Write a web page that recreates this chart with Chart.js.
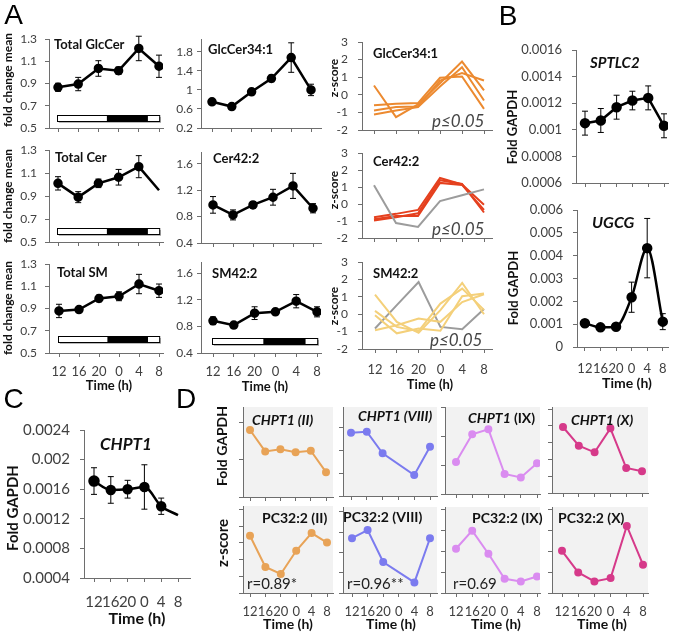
<!DOCTYPE html>
<html><head><meta charset="utf-8">
<script src="https://cdn.jsdelivr.net/npm/chart.js@4.4.1/dist/chart.umd.min.js"></script>
<style>
html,body{margin:0;padding:0;background:#fff}
body{position:relative;width:677px;height:636px;overflow:hidden;font-family:Lato,'Open Sans',sans-serif}
canvas{position:absolute;left:0;top:0}
.t{position:absolute;white-space:nowrap;line-height:1;color:#111}
</style></head><body>
<script>
// ---------- data ----------
const timeLabels = ['12','16','20','0','4','8'];
const lightDarkEdges = [-0.06, 2.42, 4.45, 5.0]; // light start, dark start, dark end, light end (time index)

const totalGlcCer = [0.866, 0.895, 1.035, 1.015, 1.215, 1.055];
const totalGlcCerErr = [0.036, 0.06, 0.07, 0.033, 0.11, 0.1];
const glcCer341 = [0.75, 0.65, 0.96, 1.24, 1.68, 1.0];
const glcCer341Err = [0.05, 0.05, 0.05, 0.07, 0.31, 0.12];
const glcCerZ = [
  [0.53, -1.27, -0.55, 0.66, 1.89, 0.25],
  [-0.6, -0.51, -0.47, 0.97, 1.04, -0.8],
  [-0.89, -0.7, -0.66, 0.81, 1.23, 0.81],
  [-1.12, -0.89, -0.7, 0.47, 1.57, -0.32]
];
const totalCer = [1.01, 0.89, 1.01, 1.063, 1.155, 0.95];
const totalCerErr = [0.058, 0.048, 0.037, 0.068, 0.096, 0];
const cer422 = [0.978, 0.826, 0.978, 1.094, 1.266, 0.927];
const cer422Err = [0.126, 0.076, 0.05, 0.12, 0.19, 0.07];
const cerZRed = [
  [-0.78, -0.58, -0.35, 1.53, 1.15, -0.05],
  [-0.9, -0.7, -0.7, 1.24, 1.12, -0.35],
  [-0.97, -0.78, -0.55, 1.4, 1.18, -0.5]
];
const cerZGrey = [1.1, -1.12, -1.35, 0.17, 0.52, 0.86];
const totalSM = [0.878, 0.89, 0.99, 1.01, 1.12, 1.06];
const totalSMErr = [0.06, 0.02, 0.03, 0.04, 0.087, 0.06];
const sm422 = [0.885, 0.82, 1.0, 1.02, 1.18, 1.02];
const sm422Err = [0.058, 0.04, 0.096, 0.04, 0.1, 0.076];
const smZYellow = [
  [1.13, -0.44, -1.07, 0.23, 1.8, 0.0],
  [0.19, -0.73, -0.97, 0.61, 1.47, 0.25],
  [-0.06, -1.1, -0.82, -0.95, 1.03, 1.19],
  [-0.92, -0.63, -0.25, -0.44, 0.7, 1.15]
];
const smZGrey = [-0.82, 0.52, 1.85, -0.73, -0.86, 0.3];

const sptlc2 = [0.00105, 0.00107, 0.00117, 0.00122, 0.00124, 0.00103];
const sptlc2Err = [0.00009, 0.00009, 0.00009, 0.00007, 0.00009, 0.00009];
const ugcg = [0.00104, 0.00086, 0.00089, 0.00218, 0.00433, 0.00111];
const ugcgErr = [0.0001, 0.00005, 0.00008, 0.00066, 0.0013, 0.00035];
const chpt1 = [0.00171, 0.00159, 0.0016, 0.00163, 0.00137, 0.00125];
const chpt1Err = [0.00018, 0.00018, 0.00012, 0.0003, 0.00011, 0];

const chpt1II = [1.81, 1.23, 1.29, 1.21, 1.25, 0.67];
const pc322II = [3.43, 1.56, 1.14, 2.53, 3.59, 3.02];
const chpt1VIII = [2.79, 2.83, 1.88, null, 0.92, 2.17];
const pc322VIII = [2.7, 3.1, 1.53, null, 0.52, 2.7];
const chpt1IX = [1.1, 2.06, 2.23, 0.69, 0.57, 1.06];
const pc322IX = [2.11, 2.97, 1.87, 0.68, 0.55, 0.79];
const chpt1X = [3.93, 2.82, 2.42, 3.85, 1.49, 1.29];
const pc322X = [2.01, 0.98, 0.55, 0.71, 3.2, 1.35];

const ticksTotal = [0.5, 0.7, 0.9, 1.1, 1.3];
const ticksGlc341 = [0.2, 0.6, 1, 1.4, 1.8];
const ticksSpecies = [0.4, 0.8, 1.2, 1.6];
const ticksZ = [-2, -1, 0, 1, 2, 3];
const ticksSPTLC2 = [0.0006, 0.0008, 0.001, 0.0012, 0.0014, 0.0016];
const ticksUGCG = [0, 0.001, 0.002, 0.003, 0.004, 0.005, 0.006];
const ticksCHPT1 = [0.0004, 0.0008, 0.0012, 0.0016, 0.002, 0.0024];

// ---------- helpers ----------
const AX = '#6e6e6e', TICK = '#404040';
const pts = v => v.map((y, i) => ({x: i, y: y}));
const range = n => Array.from({length: n + 1}, (_, i) => i);

const errPlugin = {
  id: 'errBars',
  afterDatasetsDraw(chart) {
    const {ctx, scales: {x, y}} = chart;
    chart.data.datasets.forEach(ds => {
      if (!ds.errors) return;
      ctx.save(); ctx.strokeStyle = '#000'; ctx.lineWidth = 1;
      ds.data.forEach((p, i) => {
        const e = ds.errors[i]; if (!e || p.y == null) return;
        const px = x.getPixelForValue(p.x), y1 = y.getPixelForValue(p.y + e), y2 = y.getPixelForValue(p.y - e);
        const c = 3;
        ctx.beginPath();
        ctx.moveTo(px, y1); ctx.lineTo(px, y2);
        ctx.moveTo(px - c, y1); ctx.lineTo(px + c, y1);
        ctx.moveTo(px - c, y2); ctx.lineTo(px + c, y2);
        ctx.stroke();
      });
      ctx.restore();
    });
  }
};
const bgPlugin = {
  id: 'bgFill',
  beforeDraw(chart, args, o) {
    if (!o.color) return;
    const a = chart.chartArea, ctx = chart.ctx;
    ctx.save(); ctx.fillStyle = o.color; ctx.fillRect(a.left, a.top, a.right - a.left, a.bottom - a.top); ctx.restore();
  }
};
const ldPlugin = {
  id: 'ldBar',
  beforeDatasetsDraw(chart, args, o) {
    if (!o.edges) return;
    const {ctx, scales: {x}, chartArea: a} = chart;
    const xs = o.edges.map(v => x.getPixelForValue(v));
    const y0 = a.bottom - o.off - o.h, w = xs[3] - xs[0];
    ctx.save();
    ctx.fillStyle = '#b8b8b8'; ctx.fillRect(xs[0] + 2, y0 + 2, w, o.h);
    ctx.fillStyle = '#fff'; ctx.fillRect(xs[0], y0, w, o.h);
    ctx.fillStyle = '#000'; ctx.fillRect(xs[1], y0, xs[2] - xs[1], o.h);
    ctx.strokeStyle = '#000'; ctx.lineWidth = 1; ctx.strokeRect(Math.round(xs[0]) + 0.5, Math.round(y0) + 0.5, w, o.h);
    ctx.restore();
  }
};

function chart(o) {
  const cv = document.createElement('canvas'); cv.width = 677; cv.height = 636;
  document.body.appendChild(cv);
  const yW = o.yW || 40, xH = 30;
  const n = timeLabels.length - 1;
  const xmin = -(o.p0 - o.l) * n / (o.p5 - o.p0);
  const xmax = xmin + n * (o.r - o.l) / (o.p5 - o.p0);
  const gridOpt = {drawOnChartArea: false, drawTicks: true, tickLength: 4, color: AX, lineWidth: 1};
  new Chart(cv, {
    type: 'line',
    data: {datasets: o.ds},
    options: {
      responsive: false, animation: false, events: [],
      layout: {padding: {left: o.l - yW, top: o.t, right: 677 - o.r, bottom: 636 - o.b - xH}},
      plugins: {legend: {display: false}, tooltip: {enabled: false},
        bgFill: o.bg ? {color: o.bg} : {}, ldBar: o.bar || {}},
      scales: {
        x: {type: 'linear', min: xmin, max: xmax,
          afterFit: s => { s.height = xH; },
          afterBuildTicks: s => { s.ticks = timeLabels.map((_, i) => ({value: i})); },
          ticks: {display: !!o.xLab, autoSkip: false, maxRotation: 0, minRotation: 0, padding: o.xPad || 8,
            font: {family: 'Lato', size: o.xFs || 13}, color: TICK, callback: v => timeLabels[v]},
          grid: gridOpt, border: {display: true, color: AX, width: 1}},
        y: {type: 'linear', min: o.ymin, max: o.ymax,
          afterFit: s => { s.width = yW; },
          afterBuildTicks: s => { s.ticks = o.yt.map(v => ({value: v})); },
          ticks: {display: o.yLab !== false, autoSkip: false, padding: o.yPad || 8,
            font: {family: 'Lato', size: o.yFs || 12}, color: TICK, callback: v => String(+v.toFixed(6))},
          grid: gridOpt, border: {display: true, color: AX, width: 1}}
      }
    },
    plugins: [bgPlugin, ldPlugin, errPlugin]
  });
}
const blackSeries = (v, e, r, w, extra) => Object.assign({data: pts(v), errors: e, borderColor: '#000', borderWidth: w || 2.5,
  pointRadius: r || 3.5, pointBackgroundColor: '#000', pointBorderColor: '#000', tension: 0}, extra || {});
const zLine = (v, c) => ({data: pts(v), borderColor: c, borderWidth: 2, pointRadius: 0, tension: 0});
const dLine = (v, c) => ({data: pts(v), borderColor: c, borderWidth: 2, pointRadius: 3, pointBackgroundColor: c,
  pointBorderColor: c, spanGaps: true, tension: 0});

const ORANGE = '#EC8A30', RED = '#E5401E', YELLOW = '#F4D07A', GREY = '#9c9c9c';
const bar = (off) => ({edges: lightDarkEdges, off: off, h: 6});

// ---------- Panel A ----------
chart({l: 49, r: 163, t: 39, b: 128, p0: 58, p5: 159, ymin: 0.5, ymax: 1.3, yt: ticksTotal, yPad: 8, bar: bar(7),
  ds: [blackSeries(totalGlcCer, totalGlcCerErr)]});
chart({l: 201, r: 321, t: 39, b: 128, p0: 212, p5: 311, ymin: 0.2, ymax: 2.07, yt: ticksGlc341, yPad: 4,
  ds: [blackSeries(glcCer341, glcCer341Err)]});
chart({l: 362, r: 492, t: 42, b: 130, p0: 374, p5: 484, ymin: -2, ymax: 3, yt: ticksZ, yPad: 10,
  ds: glcCerZ.map(s => zLine(s, ORANGE))});

chart({l: 49, r: 163, t: 150, b: 242, p0: 58, p5: 159, ymin: 0.5, ymax: 1.3, yt: ticksTotal, yPad: 8, bar: bar(8),
  ds: [blackSeries(totalCer, totalCerErr, 3.5, 2.5, {pointRadius: [3.5, 3.5, 3.5, 3.5, 3.5, 0]})]});
chart({l: 201, r: 321, t: 152, b: 243, p0: 213, p5: 313, ymin: 0.4, ymax: 1.78, yt: ticksSpecies, yPad: 4,
  ds: [blackSeries(cer422, cer422Err)]});
chart({l: 362, r: 492, t: 153, b: 238, p0: 374, p5: 484, ymin: -2, ymax: 3, yt: ticksZ, yPad: 10,
  ds: [zLine(cerZGrey, GREY)].concat(cerZRed.map(s => zLine(s, RED)))});

chart({l: 49, r: 163, t: 264, b: 353, p0: 59, p5: 159, ymin: 0.5, ymax: 1.3, yt: ticksTotal, yPad: 8, bar: bar(11),
  xLab: true, xPad: 7, ds: [blackSeries(totalSM, totalSMErr)]});
chart({l: 201, r: 321, t: 262, b: 353, p0: 213, p5: 317, ymin: 0.4, ymax: 1.77, yt: ticksSpecies, yPad: 4, bar: bar(9),
  xLab: true, xPad: 7, ds: [blackSeries(sm422, sm422Err)]});
chart({l: 362, r: 492, t: 262, b: 349, p0: 375, p5: 484, ymin: -2, ymax: 3, yt: ticksZ, yPad: 10,
  xLab: true, xPad: 9, ds: smZYellow.map(s => zLine(s, YELLOW)).concat([zLine(smZGrey, GREY)])});

// ---------- Panel B ----------
chart({l: 576, r: 668, t: 50, b: 183, p0: 585, p5: 664, ymin: 0.0006, ymax: 0.0016, yt: ticksSPTLC2, yPad: 10, yFs: 13, yW: 75,
  ds: [blackSeries(sptlc2, sptlc2Err, 4, 2.5)]});
chart({l: 577, r: 670, t: 210, b: 347, p0: 585, p5: 664, ymin: 0, ymax: 0.006, yt: ticksUGCG, yPad: 10, yFs: 13, yW: 75,
  xLab: true, xPad: 10, xFs: 13,
  ds: [blackSeries(ugcg, ugcgErr, 4, 2.5, {cubicInterpolationMode: 'monotone'})]});

// ---------- Panel C ----------
chart({l: 84, r: 190, t: 430, b: 578, p0: 94, p5: 178, ymin: 0.0004, ymax: 0.0024, yt: ticksCHPT1, yPad: 10, yFs: 15, yW: 82,
  xLab: true, xPad: 11, xFs: 15,
  ds: [blackSeries(chpt1, chpt1Err, 4, 2.5, {cubicInterpolationMode: 'monotone', pointRadius: [4.5, 4, 4, 4, 4, 0]})]});

// ---------- Panel D ----------
const BG = '#F2F2F2';
const C_II = '#E8A357', C_VIII = '#7B7BEF', C_IX = '#DA8CF0', C_X = '#D63A8A';
chart({l: 243, r: 333, t: 407, b: 497, p0: 250, p5: 326, ymin: 0, ymax: 2.43, yt: range(2), yLab: false, bg: BG,
  ds: [dLine(chpt1II, C_II)]});
chart({l: 343, r: 437, t: 407, b: 496, p0: 351, p5: 430, ymin: 0, ymax: 3.92, yt: range(3), yLab: false, bg: BG,
  ds: [dLine(chpt1VIII, C_VIII)]});
chart({l: 445, r: 540, t: 407, b: 494, p0: 456, p5: 537, ymin: 0, ymax: 3.0, yt: range(3), yLab: false, bg: BG,
  ds: [dLine(chpt1IX, C_IX)]});
chart({l: 552, r: 648, t: 407, b: 493, p0: 563, p5: 642, ymin: 0, ymax: 5.12, yt: range(5), yLab: false, bg: BG,
  ds: [dLine(chpt1X, C_X)]});

chart({l: 243, r: 333, t: 506, b: 593, p0: 250, p5: 327, ymin: 0, ymax: 5.21, yt: range(5), yLab: false, bg: BG,
  xLab: true, xPad: 7, ds: [dLine(pc322II, C_II)]});
chart({l: 343, r: 437, t: 507, b: 593, p0: 352, p5: 430, ymin: 0, ymax: 4.24, yt: range(4), yLab: false, bg: BG,
  xLab: true, xPad: 7, ds: [dLine(pc322VIII, C_VIII)]});
chart({l: 445, r: 540, t: 507, b: 593, p0: 456, p5: 537, ymin: 0, ymax: 4.1, yt: range(4), yLab: false, bg: BG,
  xLab: true, xPad: 7, ds: [dLine(pc322IX, C_IX)]});
chart({l: 552, r: 648, t: 507, b: 593, p0: 562, p5: 643, ymin: 0, ymax: 4.1, yt: range(4), yLab: false, bg: BG,
  xLab: true, xPad: 7, ds: [dLine(pc322X, C_X)]});

// ---------- text ----------
function txt(html, x, y, o) {
  o = o || {};
  const d = document.createElement('div');
  d.className = 't'; d.innerHTML = html;
  d.style.left = x + 'px'; d.style.top = y + 'px';
  d.style.fontSize = (o.size || 13) + 'px';
  d.style.fontWeight = o.bold ? 'bold' : 'normal';
  d.style.fontStyle = o.italic ? 'italic' : 'normal';
  if (o.color) d.style.color = o.color;
  if (o.family) d.style.fontFamily = o.family;
  let tr = o.anchor === 'l' ? 'translate(0,-50%)' : 'translate(-50%,-50%)';
  if (o.rot) tr += ' rotate(-90deg)';
  d.style.transform = tr;
  document.body.appendChild(d);
}
const LIB = "'Liberation Sans', Arial, sans-serif";
txt('A', 13.5, 15, {size: 28, family: LIB, color: '#000'});
txt('B', 508, 16, {size: 28, family: LIB, color: '#000'});
txt('C', 13.5, 399, {size: 28, family: LIB, color: '#000'});
txt('D', 186, 399, {size: 28, family: LIB, color: '#000'});

const T = {bold: true, anchor: 'l', size: 13};
txt('Total GlcCer', 54, 44, T);
txt('GlcCer34:1', 208, 49, T);
txt('GlcCer34:1', 373, 53, T);
txt('Total Cer', 55, 157, T);
txt('Cer42:2', 213, 158, T);
txt('Cer42:2', 373, 161, T);
txt('Total SM', 57, 272, T);
txt('SM42:2', 212, 273, T);
txt('SM42:2', 373, 273, T);

[80, 196, 308].forEach(y => txt('fold change mean', 8, y, {bold: true, size: 12, rot: true}));
[78, 190, 306].forEach(y => txt('z-score', 334, y, {bold: true, size: 12, rot: true}));
[[432, 120], [432, 228], [430, 339]].forEach(p => txt('p≤0.05', p[0], p[1], {italic: true, size: 17, anchor: 'l', color: '#454545'}));
txt('Time (h)', 109, 385, {bold: true, size: 13});
txt('Time (h)', 265, 386, {bold: true, size: 13});
txt('Time (h)', 430, 384, {bold: true, size: 13});

txt('SPTLC2', 590, 62, {bold: true, italic: true, size: 15, anchor: 'l'});
txt('UGCG', 592, 222, {bold: true, italic: true, size: 16, anchor: 'l'});
txt('Fold GAPDH', 512, 127, {bold: true, size: 13, rot: true});
txt('Fold GAPDH', 513, 288, {bold: true, size: 13, rot: true});
txt('Time (h)', 627, 383, {bold: true, size: 14});

txt('CHPT1', 100, 443, {bold: true, italic: true, size: 17, anchor: 'l'});
txt('Fold GAPDH', 12, 508, {bold: true, size: 15, rot: true});
txt('Time (h)', 137, 618, {bold: true, size: 16});

const DT = {bold: true, italic: true, size: 14, anchor: 'l'};
txt('CHPT1 (II)', 252, 420, DT);
txt('CHPT1 (VIII)', 358, 416, DT);
txt('<i>CHPT1</i> <span style="font-style:normal">(IX)</span>', 468, 418, DT);
txt('CHPT1 (X)', 571, 420, DT);
const PT = {bold: true, size: 14, anchor: 'l'};
txt('PC32:2 (II)', 262, 518, PT);
txt('PC32:2 (VIII)', 343, 517, PT);
txt('PC32:2 (IX)', 472, 518, PT);
txt('PC32:2 (X)', 558, 518, PT);
const RT = {size: 15, anchor: 'l', color: '#222'};
txt('r=0.89*', 247, 583, RT);
txt('r=0.96**', 347, 583, RT);
txt('r=0.69', 453, 583, RT);
txt('Fold GAPDH', 222, 446, {bold: true, size: 14, rot: true});
txt('z-score', 222, 543, {bold: true, size: 15, rot: true});
[288, 391, 496, 602].forEach(x => txt('Time (h)', x, 624, {bold: true, size: 14}));
</script>
</body></html>
